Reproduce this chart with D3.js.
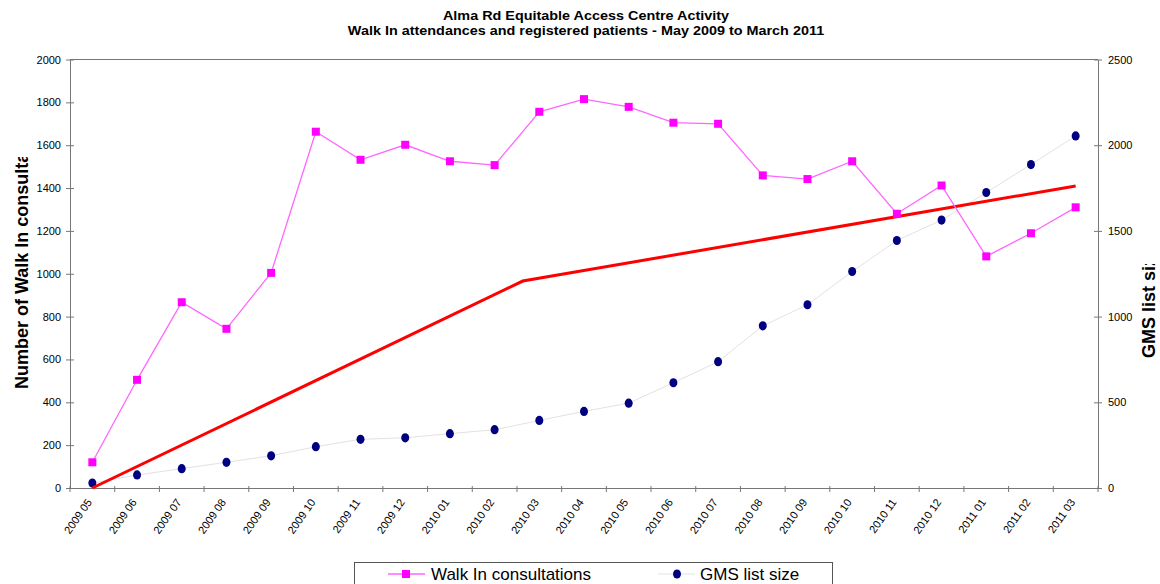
<!DOCTYPE html>
<html>
<head>
<meta charset="utf-8">
<script src="https://cdn.jsdelivr.net/npm/d3@7"></script>
<style>
  body { margin: 0; background: #fff; }
  text { font-family: Arial, "Liberation Sans", sans-serif; }
</style>
</head>
<body>
<div class="chart"></div>
<script>
// data
const months = ["2009 05","2009 06","2009 07","2009 08","2009 09","2009 10","2009 11","2009 12",
  "2010 01","2010 02","2010 03","2010 04","2010 05","2010 06","2010 07","2010 08","2010 09",
  "2010 10","2010 11","2010 12","2011 01","2011 02","2011 03"];
const walkIn = [120, 505, 867, 743, 1004, 1663, 1532, 1602, 1525, 1507, 1756, 1815, 1779,
  1705, 1700, 1459, 1442, 1525, 1280, 1412, 1081, 1189, 1310];
const gmsList = [29, 76, 113, 150, 188, 241, 284, 293, 317, 340, 394, 447, 495, 614, 737,
  946, 1069, 1263, 1444, 1563, 1724, 1887, 2054];
// red line (no legend entry): month index -> walk in value
const redIdx = [0, 9.63, 22];
const redVal = [0, 966, 1410];
const leftTicks = [0, 200, 400, 600, 800, 1000, 1200, 1400, 1600, 1800, 2000];
const rightTicks = [0, 500, 1000, 1500, 2000, 2500];

const svgwidth = 1160, svgheight = 584;
const margin = {top: 59.5, right: 62, bottom: 96, left: 70};
const plotRight = svgwidth - margin.right;
const plotBottom = svgheight - margin.bottom;

const svg = d3.select(".chart").append("svg")
    .attr("width", svgwidth)
    .attr("height", svgheight);

// scales
const posX = d3.scaleBand().domain(months).range([margin.left, plotRight]);
const bw = posX.bandwidth();
const cx = m => posX(m) + bw / 2;
const idxX = d3.scaleLinear().domain([0, months.length - 1])
    .range([cx(months[0]), cx(months[months.length - 1])]);
const yLeft = d3.scaleLinear().domain([0, 2000]).range([plotBottom, margin.top]);
const yRight = d3.scaleLinear().domain([0, 2500]).range([plotBottom, margin.top]);

const axisColor = "#777";

// title
const title = svg.append("g")
    .attr("transform", "translate(586,0) scale(1.2,1)")
    .attr("font-weight", "bold")
    .attr("font-size", "12px")
    .attr("text-anchor", "middle");
title.append("text").attr("y", 20).text("Alma Rd Equitable Access Centre Activity");
title.append("text").attr("y", 35.5).text("Walk In attendances and registered patients - May 2009 to March 2011");

// plot top border
svg.append("line")
    .attr("x1", margin.left).attr("x2", plotRight)
    .attr("y1", margin.top).attr("y2", margin.top)
    .attr("stroke", axisColor);

// left axis
const gl = svg.append("g")
    .attr("transform", "translate(" + margin.left + ",0)")
    .call(d3.axisLeft(yLeft).tickValues(leftTicks).tickFormat(d3.format("d"))
        .tickSize(4).tickSizeOuter(0).tickPadding(5));
gl.selectAll("line").attr("x1", 4);
gl.select(".domain").attr("stroke", axisColor);
gl.selectAll("line").attr("stroke", axisColor);
gl.selectAll("text").attr("font-size", "11px").attr("font-family", null).attr("fill", "#000");

// right axis
const gr = svg.append("g")
    .attr("transform", "translate(" + plotRight + ",0)")
    .call(d3.axisRight(yRight).tickValues(rightTicks).tickFormat(d3.format("d"))
        .tickSize(4).tickSizeOuter(0).tickPadding(6));
gr.selectAll("line").attr("x1", -4);
gr.select(".domain").attr("stroke", axisColor);
gr.selectAll("line").attr("stroke", axisColor);
gr.selectAll("text").attr("font-size", "11px").attr("font-family", null).attr("fill", "#000");

// bottom axis: labels at month centres, ticks on month boundaries
const gb = svg.append("g")
    .attr("transform", "translate(0," + plotBottom + ")")
    .call(d3.axisBottom(posX).tickSize(0).tickSizeOuter(0));
gb.select(".domain").attr("stroke", axisColor);
gb.selectAll("text")
    .attr("font-size", "11px").attr("font-family", null).attr("fill", "#000")
    .attr("y", 0).attr("dy", "0.35em")
    .attr("text-anchor", "end")
    .attr("transform", "translate(-3,12) rotate(-55)");
const bounds = months.map(m => posX(m)).concat([plotRight]);
gb.selectAll(".bound")
    .data(bounds)
    .enter()
    .append("line")
        .attr("class", "bound")
        .attr("x1", d => d).attr("x2", d => d)
        .attr("y1", -2).attr("y2", 4)
        .attr("stroke", axisColor);

// axis titles (both cut short in the original)
const defs = svg.append("defs");
defs.append("clipPath").attr("id", "lclip")
    .append("rect").attr("x", 0).attr("y", 157).attr("width", 40).attr("height", 260);
defs.append("clipPath").attr("id", "rclip")
    .append("rect").attr("x", 1130).attr("y", 264).attr("width", 30).attr("height", 200);

svg.append("g").attr("clip-path", "url(#lclip)")
  .append("text")
    .attr("transform", "translate(28,389) rotate(-90)")
    .attr("text-anchor", "start")
    .attr("font-weight", "bold")
    .attr("font-size", "18px")
    .text("Number of Walk In consultations");

svg.append("g").attr("clip-path", "url(#rclip)")
  .append("text")
    .attr("transform", "translate(1155,358) rotate(-90)")
    .attr("text-anchor", "start")
    .attr("font-weight", "bold")
    .attr("font-size", "18px")
    .text("GMS list size");

// GMS list size (right axis)
svg.append("path")
    .datum(gmsList)
    .attr("fill", "none")
    .attr("stroke", "#e2e2e2")
    .attr("stroke-width", 1)
    .attr("d", d3.line().x((d, i) => cx(months[i])).y(d => yRight(d)));
svg.selectAll(".gms")
    .data(gmsList)
    .enter()
    .append("ellipse")
        .attr("class", "gms")
        .attr("cx", (d, i) => cx(months[i]))
        .attr("cy", d => yRight(d))
        .attr("rx", 4).attr("ry", 4.6)
        .attr("fill", "#000080");

// red line
svg.append("path")
    .datum(redIdx.map((d, i) => [d, redVal[i]]))
    .attr("fill", "none")
    .attr("stroke", "#ff0000")
    .attr("stroke-width", 3)
    .attr("d", d3.line().x(d => idxX(d[0])).y(d => yLeft(d[1])));

// walk in consultations (left axis)
svg.append("path")
    .datum(walkIn)
    .attr("fill", "none")
    .attr("stroke", "#ff66ff")
    .attr("stroke-width", 1.3)
    .attr("d", d3.line().x((d, i) => cx(months[i])).y(d => yLeft(d)));
svg.selectAll(".walk")
    .data(walkIn)
    .enter()
    .append("rect")
        .attr("class", "walk")
        .attr("x", (d, i) => cx(months[i]) - 4)
        .attr("y", d => yLeft(d) - 4)
        .attr("width", 8).attr("height", 8)
        .attr("fill", "#ff00ff");

// legend
const lg = svg.append("g");
lg.append("rect")
    .attr("x", 354.5).attr("y", 562.5)
    .attr("width", 478).attr("height", 40)
    .attr("fill", "#fff").attr("stroke", "#555");
lg.append("line").attr("x1", 388).attr("x2", 425).attr("y1", 574).attr("y2", 574)
    .attr("stroke", "#ff66ff").attr("stroke-width", 1.3);
lg.append("rect").attr("x", 402).attr("y", 570).attr("width", 8).attr("height", 8)
    .attr("fill", "#ff00ff");
lg.append("text").attr("x", 431).attr("y", 579.5).attr("font-size", "17px")
    .text("Walk In consultations");
lg.append("line").attr("x1", 658).attr("x2", 695).attr("y1", 574).attr("y2", 574)
    .attr("stroke", "#e2e2e2");
lg.append("ellipse").attr("cx", 677).attr("cy", 574).attr("rx", 4).attr("ry", 4.6)
    .attr("fill", "#000080");
lg.append("text").attr("x", 700).attr("y", 579.5).attr("font-size", "17px")
    .text("GMS list size");
</script>
</body>
</html>
